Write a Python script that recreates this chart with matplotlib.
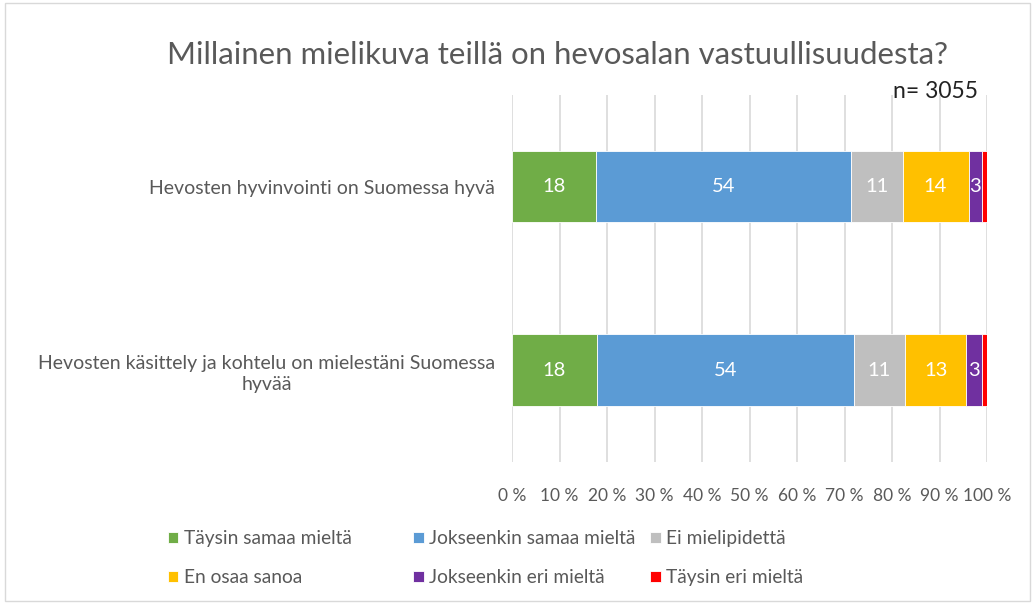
import matplotlib.pyplot as plt
from matplotlib.patches import Rectangle

# survey data (percent)
categories = ['Hevosten hyvinvointi on Suomessa hyvä',
              'Hevosten käsittely ja kohtelu on mielestäni Suomessa\nhyvää']
series_names = ['Täysin samaa mieltä', 'Jokseenkin samaa mieltä', 'Ei mielipidettä',
                'En osaa sanoa', 'Jokseenkin eri mieltä', 'Täysin eri mieltä']
row1 = [17.7, 53.6, 10.9, 13.9, 2.9, 1.0]
row2 = [17.9, 54.0, 10.9, 12.8, 3.3, 1.1]
labels1 = ['18', '54', '11', '14', '3', '']
labels2 = ['18', '54', '11', '13', '3', '']
colors = ['#70ad47', '#5b9bd5', '#bfbfbf', '#ffc000', '#7030a0', '#ff0000']

plt.rcParams['font.family'] = ['Lato', 'DejaVu Sans']

fig = plt.figure(figsize=(10.35, 6.04), dpi=100)
ax = fig.add_axes([0.4947, 0.235, 0.459, 0.608])

rows = [row1, row2]
labs = [labels1, labels2]
y = [0, 1]
left = [0, 0]
handles = []
for i, name in enumerate(series_names):
    vals = [r[i] for r in rows]
    bars = ax.barh(y, vals, left=left, height=0.39, color=colors[i],
                   edgecolor='white', linewidth=0.6, label=name, zorder=3)
    handles.append(bars)
    for b, lab in zip(bars, [l[i] for l in labs]):
        if lab:
            ax.text(b.get_x() + b.get_width() / 2, b.get_y() + b.get_height() / 2, lab,
                    ha='center', va='center', color='white', fontsize=14.5, zorder=4)
    left = [left[k] + vals[k] for k in range(2)]

ax.set_xlim(0, 100)
ax.set_ylim(1.5, -0.5)
ax.set_xticks(range(0, 101, 10))
ax.set_xticklabels([f'{v} %' for v in range(0, 101, 10)], fontsize=12.5, color='#595959')
ax.set_yticks(y)
ax.set_yticklabels(categories, fontsize=14, color='#595959', multialignment='center',
                   linespacing=1.3)
ax.tick_params(length=0, axis='both')
ax.tick_params(axis='x', pad=19)
ax.tick_params(axis='y', pad=12)
ax.grid(axis='x', color='#d9d9d9', linewidth=1.2, zorder=0)
for s in ax.spines.values():
    s.set_visible(False)

fig.text(0.5385, 0.909, 'Millainen mielikuva teillä on hevosalan vastuullisuudesta?',
         ha='center', va='center', fontsize=22.4, color='#595959')
fig.text(0.863, 0.848, 'n= 3055', ha='left', va='center', fontsize=16.5, color='#222222')

# legend: three fixed-width columns like Excel
col_x = [0.162, 0.399, 0.628]
for c in range(3):
    pair = [handles[c], handles[c + 3]]
    names = [series_names[c], series_names[c + 3]]
    fig.legend(pair, names, loc='upper left', bbox_to_anchor=(col_x[c], 0.122),
               frameon=False, fontsize=13.8, labelcolor='#595959', handlelength=0.55,
               handleheight=0.55, handletextpad=0.3, labelspacing=1.15,
               borderpad=0, borderaxespad=0)

fig.patches.append(Rectangle((0.005, 0.005), 0.99, 0.99, transform=fig.transFigure,
                             fill=False, edgecolor='#d9d9d9', linewidth=1))

fig.savefig('out.png', dpi=100)
